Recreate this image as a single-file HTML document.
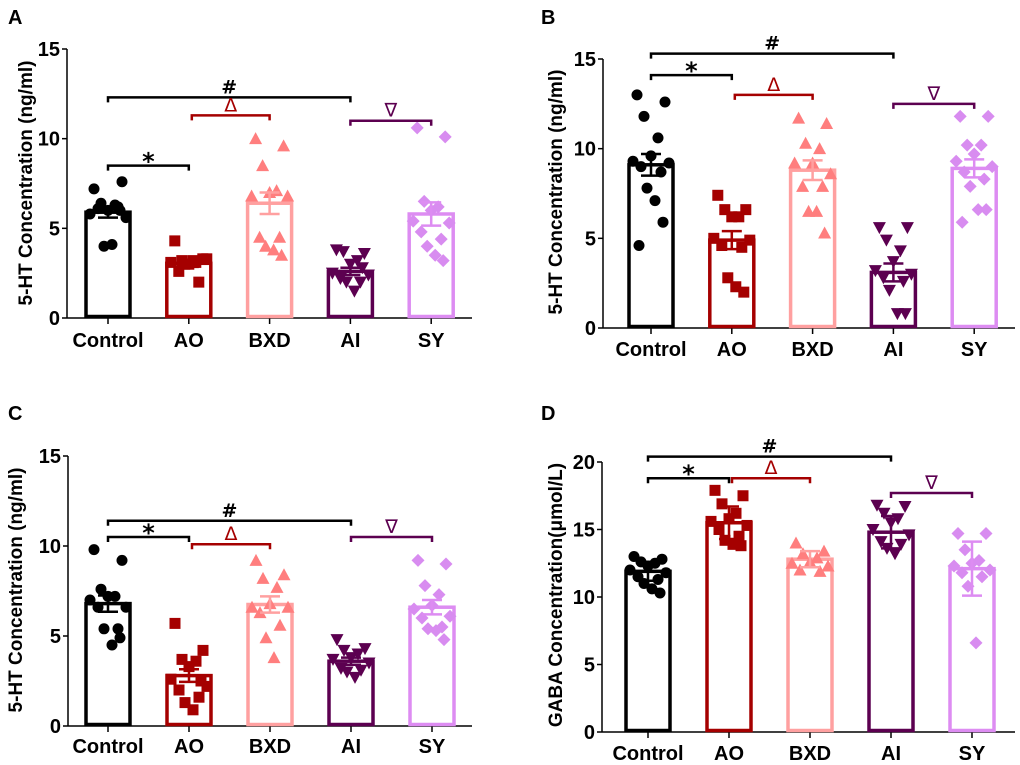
<!DOCTYPE html>
<html><head><meta charset="utf-8"><style>
html,body{margin:0;padding:0;background:#fff}
svg{display:block;font-family:"Liberation Sans",Arial,sans-serif;font-weight:bold}
</style></head><body>
<svg id="fig" width="1020" height="765" viewBox="0 0 1020 765"></svg>
<script>
const categories=["Control","AO","BXD","AI","SY"];
const colorsBar=["#000000","#a50000","#ffa0a0","#5c0050","#dd8cf2"];
const colorsPt=["#000000","#a50000","#ff7e7e","#5c0050","#d88cf0"];
const shapes=["circle","square","tri","itri","diamond"];
const ticks15=[0,5,10,15];
const ticks20=[0,5,10,15,20];
// Panel A
const meansA=[5.9,3.05,6.4,2.6,5.8];
const errA=[0.3,0.2,0.6,0.2,0.65];
const ptsA=[[7.2,7.6,6.4,6.3,6.0,5.8,5.6,6.1,6.2,4.0,4.1,6.0],[4.3,3.3,3.2,3.1,3.0,3.1,3.3,2.6,2.0,3.0,3.2],[10.0,9.6,8.5,7.1,7.0,6.8,6.8,4.5,4.5,4.0,3.8,3.5],[3.8,3.6,3.7,3.2,3.0,2.5,2.4,2.2,2.0,2.0,1.5,2.8],[10.6,10.1,6.5,6.2,6.0,5.4,5.3,4.8,4.4,4.0,3.5,3.2]];
const bracketsA=[[0,3,12.3,"#",0],[0,1,8.5,"*",0],[1,2,11.3,"Δ",1],[3,4,11.0,"∇",3]];
// Panel B
const meansB=[9.1,4.9,8.8,3.1,8.9];
const errB=[0.6,0.5,0.55,0.5,0.5];
const ptsB=[[13.0,12.6,11.8,10.6,9.6,9.3,9.2,9.0,8.7,7.8,7.1,5.9,4.6],[7.4,6.6,6.6,6.2,6.2,5.0,4.9,4.6,4.5,2.8,2.3,2.0],[11.7,11.4,10.3,10.0,9.2,9.2,8.6,7.9,7.9,6.5,6.5,5.3],[5.6,5.6,4.9,4.3,3.7,3.2,3.0,2.8,2.6,2.1,0.8,0.8],[11.8,11.8,10.2,10.2,9.7,9.3,9.0,8.7,8.3,7.9,6.6,6.6,5.9]];
const bracketsB=[[0,3,15.3,"#",0],[0,1,14.1,"*",0],[1,2,13.0,"Δ",1],[3,4,12.5,"∇",3]];
// Panel C
const meansC=[6.8,2.8,6.75,3.6,6.6];
const errC=[0.45,0.35,0.45,0.2,0.4];
const ptsC=[[9.8,9.2,7.6,7.2,7.2,7.0,6.6,6.6,5.4,5.4,4.5,4.9],[5.7,4.2,3.7,3.6,3.3,2.6,2.2,2.0,1.6,1.3,0.9,2.5],[9.2,8.4,8.2,7.7,6.8,6.6,6.6,6.3,5.6,4.9,3.8],[4.8,4.3,4.2,4.0,3.8,3.7,3.5,3.2,3.1,3.0,2.7],[9.2,9.0,7.8,7.3,6.7,6.5,6.1,6.0,5.5,5.4,5.3,4.8]];
const bracketsC=[[0,3,11.4,"#",0],[0,1,10.5,"*",0],[1,2,10.1,"Δ",1],[3,4,10.5,"∇",3]];
// Panel D
const meansD=[11.9,15.5,12.8,14.8,12.1];
const errD=[0.7,1.2,0.6,1.2,2.0];
const ptsD=[[13.0,12.8,12.6,12.5,12.3,12.0,11.8,11.5,11.3,11.0,10.6,10.3],[17.9,17.5,16.9,16.2,15.8,15.6,15.3,15.0,14.5,14.2,13.9,13.8],[14.0,13.4,13.2,12.9,12.6,12.5,12.3,12.0,11.9],[16.8,16.7,16.2,15.8,15.5,15.0,14.6,14.1,13.9,13.6,13.2],[14.7,14.7,13.5,12.7,12.5,12.3,12.0,11.8,11.5,10.8,6.6]];
const bracketsD=[[0,3,20.4,"#",0],[0,1,18.8,"*",0],[1,2,18.8,"Δ",1],[3,4,17.7,"∇",3]];

const jitter=[-14,14,-7,7,0,-18,18,-10,10,-4,4,12,-12];
const NS="http://www.w3.org/2000/svg";
const svg=document.getElementById("fig");
function mk(tag,attrs,parent){const e=document.createElementNS(NS,tag);for(const k in attrs)e.setAttribute(k,attrs[k]);(parent||svg).appendChild(e);return e;}

const panels=[
 {id:"a",letter:"A",lx:8,ly:24,ax:67,y0:318,yt:49,max:15,ticks:ticks15,cx0:108,dx:80.8,end:472,title:"5-HT Concentration (ng/ml)",tx:27,ty:183,cy:347,means:meansA,err:errA,pts:ptsA,br:bracketsA},
 {id:"b",letter:"B",lx:541,ly:24,ax:603,y0:328,yt:59,max:15,ticks:ticks15,cx0:651,dx:80.8,end:1015,title:"5-HT Concentration (ng/ml)",tx:557,ty:192,cy:356,means:meansB,err:errB,pts:ptsB,br:bracketsB},
 {id:"c",letter:"C",lx:8,ly:420,ax:68,y0:726,yt:456,max:15,ticks:ticks15,cx0:108,dx:81,end:472,title:"5-HT Concentration (ng/ml)",tx:17,ty:590,cy:753,means:meansC,err:errC,pts:ptsC,br:bracketsC},
 {id:"d",letter:"D",lx:541,ly:420,ax:602,y0:732,yt:462,max:20,ticks:ticks20,cx0:648,dx:81,end:1015,title:"GABA Concentration(μmol/L)",tx:557,ty:595,cy:760,means:meansD,err:errD,pts:ptsD,br:bracketsD}
];

function marker(g,shape,x,y,c){
  const s=5.5;
  let e;
  if(shape==="circle")e=mk("circle",{cx:x,cy:y,r:s,fill:c},g);
  else if(shape==="square")e=mk("rect",{x:x-s,y:y-s,width:2*s,height:2*s,fill:c},g);
  else if(shape==="tri")e=mk("polygon",{points:`${x},${y-s-1} ${x-s-1},${y+s} ${x+s+1},${y+s}`,fill:c},g);
  else if(shape==="itri")e=mk("polygon",{points:`${x},${y+s+1} ${x-s-1},${y-s} ${x+s+1},${y-s}`,fill:c},g);
  else e=mk("polygon",{points:`${x},${y-s-1} ${x+s+1},${y} ${x},${y+s+1} ${x-s-1},${y}`,fill:c},g);
  return e;
}

panels.forEach(p=>{
  const g=mk("g",{});
  
  
  const Y=v=>p.y0-(v/p.max)*(p.y0-p.yt);
  const X=i=>p.cx0+i*p.dx;
  const L=mk("text",{x:p.lx,y:p.ly,"font-size":20},g);L.textContent=p.letter;
  
  const T=mk("text",{x:p.tx,y:p.ty,"font-size":19,"text-anchor":"middle",transform:`rotate(-90 ${p.tx} ${p.ty})`,"dominant-baseline":"middle"},g);T.textContent=p.title;
  
  const ya=mk("line",{x1:p.ax,y1:p.yt,x2:p.ax,y2:p.y0,stroke:"#000","stroke-width":1.5},g);
  
  const xa=mk("line",{x1:p.ax,y1:p.y0,x2:p.end,y2:p.y0,stroke:"#000","stroke-width":1.5},g);
  
  p.ticks.forEach(t=>{
    mk("line",{x1:p.ax-5,y1:Y(t),x2:p.ax,y2:Y(t),stroke:"#000","stroke-width":1.5},g);
    const tl=mk("text",{x:p.ax-7,y:Y(t)+7,"font-size":20,"text-anchor":"end"},g);tl.textContent=t;
    
  });
  categories.forEach((c,i)=>{
    const x=X(i);
    mk("line",{x1:x,y1:p.y0,x2:x,y2:p.y0+6,stroke:"#000","stroke-width":1.5},g);
    const cl=mk("text",{x:x,y:p.cy,"font-size":20,"text-anchor":"middle"},g);cl.textContent=c;
    
    const bar=mk("rect",{x:x-22,y:Y(p.means[i]),width:44,height:p.y0-Y(p.means[i])-1.5,fill:"#fff",stroke:colorsBar[i],"stroke-width":3.5},g);
    
    p.pts[i].forEach((v,k)=>{
      const m=marker(g,shapes[i],x+jitter[k%jitter.length],Y(v),colorsPt[i]);
      
    });
    const hi=Y(p.means[i]+p.err[i]),lo=Y(p.means[i]-p.err[i]);
    const eb=mk("path",{d:`M${x},${hi}V${lo}M${x-10},${hi}H${x+10}M${x-10},${lo}H${x+10}`,stroke:colorsBar[i],"stroke-width":2.5,fill:"none"},g);
    
  });
  p.br.forEach(b=>{
    const x1=X(b[0])+(b[0]===1&&b[1]===2?3:0),x2=X(b[1]),y=Y(b[2]);
    const col=colorsBar[b[4]];
    const pb=mk("path",{d:`M${x1},${y+5}V${y}H${x2}V${y+5}`,stroke:col,"stroke-width":2.5,fill:"none"},g);
    
    const isStar=b[3]==="*";
    const st=mk("text",{x:(x1+x2)/2,y:y-(isStar?-4:4),"font-size":isStar?24:19,"text-anchor":"middle",fill:col,"font-weight":b[3]==="#"||isStar?"bold":"normal","font-family":"DejaVu Sans, sans-serif"},g);
    st.textContent=b[3];
    
  });
});
</script>
</body></html>
